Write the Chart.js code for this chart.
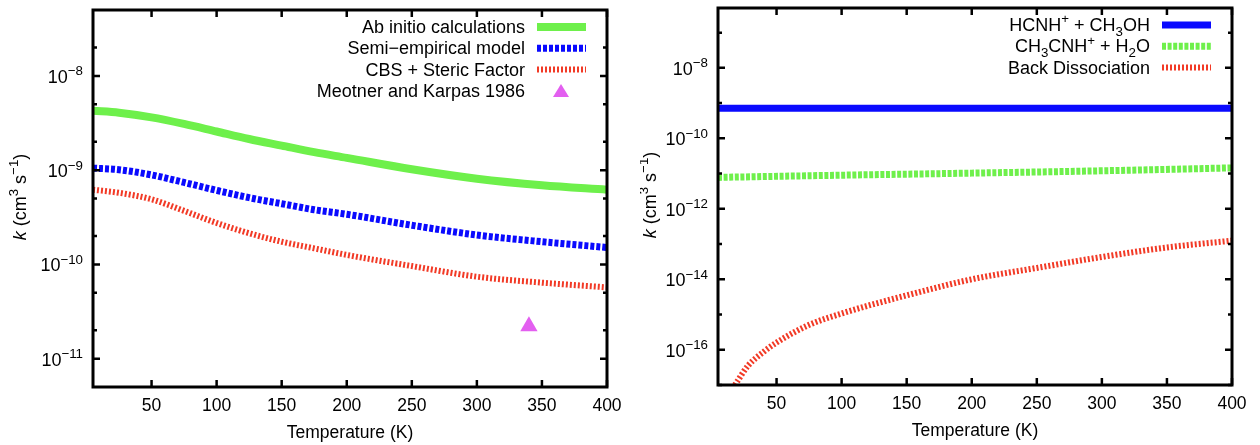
<!DOCTYPE html>
<html>
<head>
<meta charset="utf-8">
<script src="https://cdn.jsdelivr.net/npm/chart.js@4"></script>
<style>
  body { margin: 0; background: #fff; }
  #left { position: absolute; left: 0; top: 0; }
  #right { position: absolute; left: 640px; top: 0; }
</style>
</head>
<body>
<canvas id="left" width="640" height="445"></canvas>
<canvas id="right" width="620" height="445"></canvas>
<script>
// left panel: rate coefficients vs temperature
var leftTemps = [5, 25, 50, 75, 100, 125, 150, 175, 200, 250, 300, 350, 400];
var abInitio = [4.27e-9, 4.07e-9, 3.63e-9, 3.09e-9, 2.57e-9, 2.14e-9, 1.82e-9, 1.55e-9, 1.35e-9, 1.02e-9, 8.1e-10, 6.9e-10, 6.2e-10];
var semiEmpirical = [1.05e-9, 1.01e-9, 8.9e-10, 7.4e-10, 6.1e-10, 5.1e-10, 4.4e-10, 3.8e-10, 3.4e-10, 2.6e-10, 2.05e-10, 1.74e-10, 1.51e-10];
var cbsSteric = [6.2e-10, 5.75e-10, 4.9e-10, 3.7e-10, 2.75e-10, 2.14e-10, 1.74e-10, 1.48e-10, 1.26e-10, 9.6e-11, 7.4e-11, 6.4e-11, 5.7e-11];
var meotnerTemps = [340];
var meotnerK = [2.2e-11];

// right panel
var hcnhTemps = [5, 400];
var hcnhK = [7.2e-10, 7.2e-10];
var ch3cnhTemps = [5, 100, 200, 300, 400];
var ch3cnhK = [7.8e-12, 9.0e-12, 1.03e-11, 1.2e-11, 1.45e-11];
var backTemps = [18, 28, 41, 50, 74, 100, 150, 200, 250, 300, 350, 400];
var backK = [1e-17, 3.5e-17, 9.3e-17, 1.6e-16, 4.9e-16, 1.07e-15, 3.5e-15, 1.0e-14, 2.1e-14, 4.3e-14, 8e-14, 1.25e-13];

var xTicks = [50, 100, 150, 200, 250, 300, 350, 400];
var leftExps = [-8, -9, -10, -11];
var rightExps = [-8, -10, -12, -14, -16];
var rightMinorExps = [-7, -9, -11, -13, -15, -17];

var green = '#6ef04b';
var blue = '#0a0aff';
var red = '#f23a26';
var pink = '#e35ff0';
var fontFam = '"Liberation Sans", Arial, Helvetica, sans-serif';

function pts(xs, ys) {
  return xs.map(function (x, i) { return {x: x, y: ys[i]}; });
}

// draws text made of parts: [text, 'n' | 'sup' | 'sub' | 'it']
var smallK = 0.74;
function richWidth(ctx, parts, size) {
  var w = 0;
  parts.forEach(function (p) {
    var s = (p[1] == 'sup' || p[1] == 'sub') ? size * smallK : size;
    ctx.font = (p[1] == 'it' ? 'italic ' : '') + s + 'px ' + fontFam;
    w += ctx.measureText(p[0]).width;
  });
  return w;
}
function drawRich(ctx, parts, x, y, align, size) {
  var w = richWidth(ctx, parts, size);
  var cx = align == 'right' ? x - w : (align == 'center' ? x - w / 2 : x);
  ctx.textAlign = 'left';
  ctx.textBaseline = 'alphabetic';
  parts.forEach(function (p) {
    var s = size, dy = 0;
    if (p[1] == 'sup') { s = size * smallK; dy = -size * 0.42; }
    if (p[1] == 'sub') { s = size * smallK; dy = size * 0.25; }
    ctx.font = (p[1] == 'it' ? 'italic ' : '') + s + 'px ' + fontFam;
    ctx.fillText(p[0], cx, y + dy);
    cx += ctx.measureText(p[0]).width;
  });
}

function framePlugin(opts) {
  return {
    id: 'frame',
    afterDatasetsDraw: function (chart) {
      var ctx = chart.ctx, a = chart.chartArea;
      var xs = chart.scales.x, ys = chart.scales.y;
      ctx.save();
      ctx.strokeStyle = '#000';
      ctx.fillStyle = '#000';
      ctx.lineWidth = 2.5;
      // x ticks, bottom and top
      xTicks.forEach(function (t) {
        var px = xs.getPixelForValue(t);
        ctx.beginPath();
        ctx.moveTo(px, a.bottom); ctx.lineTo(px, a.bottom - 7);
        ctx.moveTo(px, a.top); ctx.lineTo(px, a.top + 7);
        ctx.stroke();
        ctx.font = '17.5px ' + fontFam;
        ctx.textAlign = 'center';
        ctx.textBaseline = 'middle';
        ctx.fillText(String(t), px, a.bottom + 19);
      });
      // y ticks
      opts.majors.forEach(function (e) {
        var py = ys.getPixelForValue(Math.pow(10, e));
        ctx.beginPath();
        ctx.moveTo(a.left, py); ctx.lineTo(a.left + 7, py);
        ctx.moveTo(a.right, py); ctx.lineTo(a.right - 7, py);
        ctx.stroke();
        drawRich(ctx, [['10', 'n'], ['\u2212' + (-e), 'sup']], a.left - 10, py + 7, 'right', 18);
      });
      opts.minors.forEach(function (v) {
        var py = ys.getPixelForValue(v);
        ctx.beginPath();
        ctx.moveTo(a.left, py); ctx.lineTo(a.left + 4, py);
        ctx.moveTo(a.right, py); ctx.lineTo(a.right - 4, py);
        ctx.stroke();
      });
      ctx.lineWidth = 3;
      ctx.strokeRect(a.left, a.top, a.right - a.left, a.bottom - a.top);

      // axis titles
      drawRich(ctx, [['Temperature (K)', 'n']], (a.left + a.right) / 2, a.bottom + 51, 'center', 17.5);
      ctx.save();
      ctx.translate(opts.yTitleX, opts.yTitleY);
      ctx.rotate(-Math.PI / 2);
      drawRich(ctx, [['k', 'it'], [' (cm', 'n'], ['3', 'sup'], [' s', 'n'], ['\u22121', 'sup'], [')', 'n']], 0, 6, 'center', 18);
      ctx.restore();

      // legend
      opts.legend.forEach(function (item, i) {
        var ly = a.top + 17 + i * 21.3;
        ctx.fillStyle = '#000';
        drawRich(ctx, item.parts, a.right - 82, ly + 6, 'right', 18);
        var ds = chart.data.datasets[item.ds];
        if (item.marker) {
          var mx = a.right - 46;
          ctx.fillStyle = ds.backgroundColor;
          ctx.beginPath();
          ctx.moveTo(mx, ly - 7); ctx.lineTo(mx + 8, ly + 6); ctx.lineTo(mx - 8, ly + 6);
          ctx.closePath();
          ctx.fill();
        } else {
          ctx.strokeStyle = ds.borderColor;
          ctx.lineWidth = ds.borderWidth;
          ctx.setLineDash(ds.borderDash || []);
          ctx.lineCap = 'butt';
          ctx.beginPath();
          ctx.moveTo(a.right - 70, ly); ctx.lineTo(a.right - 21, ly);
          ctx.stroke();
          ctx.setLineDash([]);
        }
      });
      ctx.restore();
    }
  };
}

function baseOptions(yMin, yMax, pad) {
  return {
    responsive: false,
    animation: false,
    layout: {padding: pad},
    plugins: {legend: {display: false}, tooltip: {enabled: false}},
    scales: {
      x: {type: 'linear', min: 5, max: 400, display: false},
      y: {type: 'logarithmic', min: yMin, max: yMax, display: false}
    }
  };
}

var leftMinors = [];
for (var e = -12; e <= -8; e++) {
  [2, 5].forEach(function (m) {
    var v = m * Math.pow(10, e);
    if (v > 5e-12 && v < 5e-8) leftMinors.push(v);
  });
}

new Chart(document.getElementById('left').getContext('2d'), {
  type: 'line',
  data: {
    datasets: [{
      label: 'Ab initio calculations',
      data: pts(leftTemps, abInitio),
      borderColor: green, borderWidth: 8, pointRadius: 0,
      cubicInterpolationMode: 'monotone', clip: 0
    }, {
      label: 'Semi-empirical model',
      data: pts(leftTemps, semiEmpirical),
      borderColor: blue, borderWidth: 7, borderDash: [4, 2], pointRadius: 0,
      borderCapStyle: 'butt', cubicInterpolationMode: 'monotone', clip: 0
    }, {
      label: 'CBS + Steric Factor',
      data: pts(leftTemps, cbsSteric),
      borderColor: red, borderWidth: 6, borderDash: [2, 2], pointRadius: 0,
      borderCapStyle: 'butt', cubicInterpolationMode: 'monotone', clip: 0
    }, {
      label: 'Meotner and Karpas 1986',
      data: pts(meotnerTemps, meotnerK),
      showLine: false, pointStyle: 'triangle', pointRadius: 10,
      backgroundColor: pink, borderColor: pink, borderWidth: 0
    }]
  },
  options: baseOptions(5e-12, 5e-8, {left: 93, right: 33, top: 10, bottom: 58}),
  plugins: [framePlugin({
    majors: leftExps,
    minors: leftMinors,
    yTitleX: 20, yTitleY: 197,
    legend: [
      {ds: 0, parts: [['Ab initio calculations', 'n']]},
      {ds: 1, parts: [['Semi\u2212empirical model', 'n']]},
      {ds: 2, parts: [['CBS + Steric Factor', 'n']]},
      {ds: 3, marker: true, parts: [['Meotner and Karpas 1986', 'n']]}
    ]
  })]
});

new Chart(document.getElementById('right').getContext('2d'), {
  type: 'line',
  data: {
    datasets: [{
      label: 'HCNH+ + CH3OH',
      data: pts(hcnhTemps, hcnhK),
      borderColor: blue, borderWidth: 7, pointRadius: 0, clip: 0
    }, {
      label: 'CH3CNH+ + H2O',
      data: pts(ch3cnhTemps, ch3cnhK),
      borderColor: green, borderWidth: 7, borderDash: [4, 1.6], pointRadius: 0,
      borderCapStyle: 'butt', cubicInterpolationMode: 'monotone', clip: 0
    }, {
      label: 'Back Dissociation',
      data: pts(backTemps, backK),
      borderColor: red, borderWidth: 6, borderDash: [2, 2], pointRadius: 0,
      borderCapStyle: 'butt', cubicInterpolationMode: 'monotone', clip: 0
    }]
  },
  options: baseOptions(1e-17, 5e-7, {left: 78, right: 28, top: 8, bottom: 60}),
  plugins: [framePlugin({
    majors: rightExps,
    minors: rightMinorExps.map(function (e) { return Math.pow(10, e); }),
    yTitleX: 10, yTitleY: 195,
    legend: [
      {ds: 0, parts: [['HCNH', 'n'], ['+', 'sup'], [' + CH', 'n'], ['3', 'sub'], ['OH', 'n']]},
      {ds: 1, parts: [['CH', 'n'], ['3', 'sub'], ['CNH', 'n'], ['+', 'sup'], [' + H', 'n'], ['2', 'sub'], ['O', 'n']]},
      {ds: 2, parts: [['Back Dissociation', 'n']]}
    ]
  })]
});
</script>
</body>
</html>
